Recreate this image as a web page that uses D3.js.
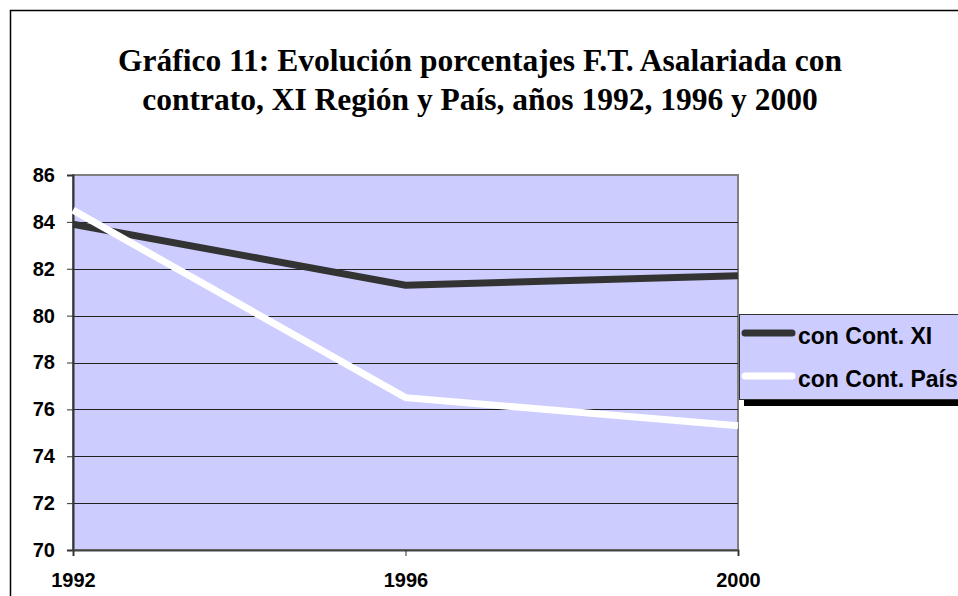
<!DOCTYPE html>
<html><head><meta charset="utf-8">
<script src="https://cdn.jsdelivr.net/npm/d3@7"></script>
<style>body{margin:0;background:#fff}svg{display:block}</style>
</head><body>
<svg id="c" width="958" height="596"></svg>
<script>
const years = ["1992", "1996", "2000"];
const contXI = [83.9, 81.3, 81.7];
const contPais = [84.5, 76.5, 75.3];
const yTicks = [70, 72, 74, 76, 78, 80, 82, 84, 86];
const seriesNames = ["con Cont. XI", "con Cont. País"];
const titleLines = ["Gráfico 11: Evolución porcentajes F.T. Asalariada con", "contrato, XI Región y País, años 1992, 1996 y 2000"];

const svg = d3.select("#c");
const m = {left: 73, right: 738, top: 175, bottom: 550};

// outer border
svg.append("rect").attr("x", 10.5).attr("y", 10.5).attr("width", 960).attr("height", 600)
  .attr("fill", "#fff").attr("stroke", "#000").attr("stroke-width", 1.5);

// title
svg.append("g").selectAll("text").data(titleLines).join("text")
  .attr("x", 480).attr("y", (d, i) => 71 + i * 39)
  .attr("text-anchor", "middle")
  .attr("font-family", "'Liberation Serif','Times New Roman',serif")
  .attr("font-weight", "bold").attr("font-size", 31.5).attr("fill", "#000")
  .text(d => d);

const x = d3.scalePoint().domain(years).range([m.left, m.right]);
const y = d3.scaleLinear().domain([70, 86]).range([m.bottom, m.top]);

// plot background
svg.append("rect").attr("x", m.left).attr("y", m.top)
  .attr("width", m.right - m.left).attr("height", m.bottom - m.top)
  .attr("fill", "#ccccff").attr("stroke", "#808080").attr("stroke-width", 2);

// gridlines
svg.append("g").selectAll("line").data(yTicks.filter(t => t > 70 && t < 86)).join("line")
  .attr("x1", m.left).attr("x2", m.right)
  .attr("y1", d => Math.round(y(d)) + 0.5).attr("y2", d => Math.round(y(d)) + 0.5)
  .attr("stroke", "#222").attr("stroke-width", 1);

// y axis
const yAxis = svg.append("g").attr("transform", `translate(${m.left},0)`)
  .call(d3.axisLeft(y).tickValues(yTicks).tickSize(6).tickPadding(12));
yAxis.attr("font-size", null).attr("font-family", null);
yAxis.select(".domain").attr("stroke", "#333").attr("stroke-width", 2);
yAxis.selectAll(".tick line").attr("stroke", "#333");
yAxis.selectAll("text").style("font-family", "'Liberation Sans',Arial,sans-serif")
  .style("font-weight", "bold").style("font-size", "20px").attr("fill", "#000");

// x axis
const xAxis = svg.append("g").attr("transform", `translate(0,${m.bottom})`)
  .call(d3.axisBottom(x).tickSize(6).tickPadding(17));
xAxis.attr("font-size", null).attr("font-family", null);
xAxis.select(".domain").attr("stroke", "#444").attr("stroke-width", 2);
xAxis.selectAll(".tick line").attr("stroke", "#333");
xAxis.selectAll("text").style("font-family", "'Liberation Sans',Arial,sans-serif")
  .style("font-weight", "bold").style("font-size", "20px").attr("fill", "#000");

// lines
const line = d3.line().x((d, i) => x(years[i])).y(d => y(d));
svg.append("path").datum(contXI).attr("d", line)
  .attr("fill", "none").attr("stroke", "#333333").attr("stroke-width", 7);
svg.append("path").datum(contPais).attr("d", line)
  .attr("fill", "none").attr("stroke", "#ffffff").attr("stroke-width", 7);

// legend
const lg = svg.append("g");
lg.append("rect").attr("x", 744).attr("y", 320).attr("width", 240).attr("height", 86).attr("fill", "#000");
lg.append("rect").attr("x", 739.5).attr("y", 314.5).attr("width", 240).attr("height", 85)
  .attr("fill", "#ccccff").attr("stroke", "#333").attr("stroke-width", 1);
const colors = ["#333333", "#ffffff"];
seriesNames.forEach((n, i) => {
  const cy = 333 + i * 43;
  lg.append("line").attr("x1", 745).attr("x2", 792).attr("y1", cy).attr("y2", cy)
    .attr("stroke", colors[i]).attr("stroke-width", 7).attr("stroke-linecap", "round");
  lg.append("text").attr("x", 798).attr("y", cy + 11)
    .attr("font-family", "'Liberation Sans',Arial,sans-serif")
    .attr("font-weight", "bold").attr("font-size", 23).attr("fill", "#000").text(n);
});
</script>
</body></html>
